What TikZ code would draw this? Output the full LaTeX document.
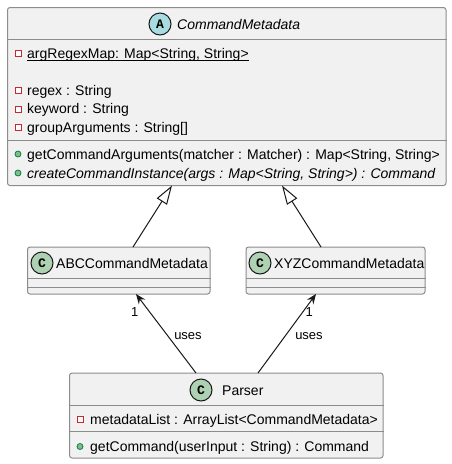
\documentclass[tikz,border=0pt]{standalone}
\usepackage{fontspec}
\setmainfont{Liberation Sans}
\newfontfamily\monob{Liberation Mono}
\usetikzlibrary{arrows.meta}
\definecolor{boxbg}{HTML}{F1F1F1}
\definecolor{boxline}{HTML}{8C8C8C}
\definecolor{dark}{HTML}{181818}
\definecolor{circA}{HTML}{A9DCDF}
\definecolor{circC}{HTML}{ADD1B2}
\definecolor{privred}{HTML}{C82930}
\definecolor{pubfill}{HTML}{84BE84}
\definecolor{publine}{HTML}{038048}
\tikzset{
  umlbox/.style={draw=boxline, fill=boxbg, line width=1pt, rounded corners=2.5pt, inner sep=0pt},
  sepline/.style={draw=boxline, line width=1pt},
  txt/.style={anchor=base west, inner sep=0pt, font=\fontsize{14}{16}\selectfont},
  ctxt/.style={anchor=base, inner sep=0pt, font=\fontsize{14}{16}\selectfont},
  lbl/.style={anchor=base, inner sep=0pt, font=\fontsize{13}{15}\selectfont},
  hcirc/.style={circle, draw=dark, line width=1pt, minimum size=22pt, inner sep=0pt, font=\fontsize{13}{15}\selectfont\monob\bfseries},
  privicon/.style={draw=privred, fill=white, line width=1pt, minimum size=6pt, inner sep=0pt},
  pubicon/.style={circle, draw=publine, fill=pubfill, line width=0.8pt, minimum size=6pt, inner sep=0pt},
  inh/.style={draw=dark, line width=1pt, -{Triangle[open, length=19pt, width=12pt, fill=white]}},
  assoc/.style={draw=dark, line width=1pt, -{Stealth[length=10pt, width=8pt, inset=3.5pt]}},
}
\begin{document}
\begin{tikzpicture}[x=1pt, y=-1pt]
\useasboundingbox (0,0) rectangle (452,464);

% CommandMetadata
\node[umlbox, minimum width=438.5pt, minimum height=178pt] (cm) at (226.75,96.5) {};
\draw[sepline] (cm.west |- 0,39) -- (cm.east |- 0,39);
\draw[sepline] (cm.west |- 0,140) -- (cm.east |- 0,140);
\node[hcirc, fill=circA] (cmicon) at (160,24) {A};
\node[txt, font=\fontsize{14}{16}\selectfont\itshape] (cmname) at (177,29) {CommandMetadata};
\node[privicon] (cmi1) at (18,53) {};
\node[txt] (cma1) at (27,58) {argRegexMap: Map<String, String>};
\draw[line width=0.8pt] ([yshift=-2.5pt]cma1.base west) -- ([yshift=-2.5pt]cma1.base east);
\node[privicon] (cmi2) at (18,90) {};
\node[txt] (cma2) at (27,95) {regex : String};
\node[privicon] (cmi3) at (18,109) {};
\node[txt] (cma3) at (27,113.5) {keyword : String};
\node[privicon] (cmi4) at (18,127.5) {};
\node[txt] (cma4) at (27,132) {groupArguments : String[]};
\node[pubicon] (cmi5) at (18,154) {};
\node[txt] (cmm1) at (27,159) {getCommandArguments(matcher : Matcher) : Map<String, String>};
\node[pubicon] (cmi6) at (18,173) {};
\node[txt, font=\fontsize{14}{16}\selectfont\itshape] (cmm2) at (27,178) {createCommandInstance(args : Map<String, String>) : Command};

% ABCCommandMetadata
\node[umlbox, minimum width=182.5pt, minimum height=47pt] (abc) at (118.75,270.5) {};
\draw[sepline] (abc.west |- 0,278) -- (abc.east |- 0,278);
\draw[sepline] (abc.west |- 0,287) -- (abc.east |- 0,287);
\node[hcirc, fill=circC] (abcicon) at (42,263) {C};
\node[txt] (abcname) at (56,268.3) {ABCCommandMetadata};

% XYZCommandMetadata
\node[umlbox, minimum width=179pt, minimum height=47pt] (xyz) at (335.5,270.5) {};
\draw[sepline] (xyz.west |- 0,278) -- (xyz.east |- 0,278);
\draw[sepline] (xyz.west |- 0,287) -- (xyz.east |- 0,287);
\node[hcirc, fill=circC] (xyzicon) at (260,263) {C};
\node[txt] (xyzname) at (274,268.3) {XYZCommandMetadata};

% Parser
\node[umlbox, minimum width=313.5pt, minimum height=85pt] (parser) at (226.25,415.5) {};
\draw[sepline] (parser.west |- 0,405) -- (parser.east |- 0,405);
\draw[sepline] (parser.west |- 0,431) -- (parser.east |- 0,431);
\node[hcirc, fill=circC] (parsericon) at (201,390) {C};
\node[txt] (parsername) at (222,395) {Parser};
\node[privicon] (pi1) at (80,419.5) {};
\node[txt] (pa1) at (90,424) {metadataList : ArrayList<CommandMetadata>};
\node[pubicon] (pi2) at (80,446.5) {};
\node[txt] (pm1) at (90,451) {getCommand(userInput : String) : Command};

% connector end points
\coordinate (cmb1) at (172,185.5);
\coordinate (cmb2) at (282,185.5);
\coordinate (abct) at (133,247);
\coordinate (xyzt) at (321,247);
\coordinate (abcb) at (136,294);
\coordinate (xyzb) at (316,294);
\coordinate (pt1) at (196,373);
\coordinate (pt2) at (258,373);

\draw[inh] (abct) -- (cmb1);
\draw[inh] (xyzt) -- (cmb2);
\draw[assoc] (pt1) -- (abcb);
\draw[assoc] (pt2) -- (xyzb);

\node[lbl] (m1) at (134.7,316) {1};
\node[lbl] (m2) at (309.2,316) {1};
\node[lbl] (u1) at (188,339) {uses};
\node[lbl] (u2) at (309,339) {uses};
\end{tikzpicture}
\end{document}
